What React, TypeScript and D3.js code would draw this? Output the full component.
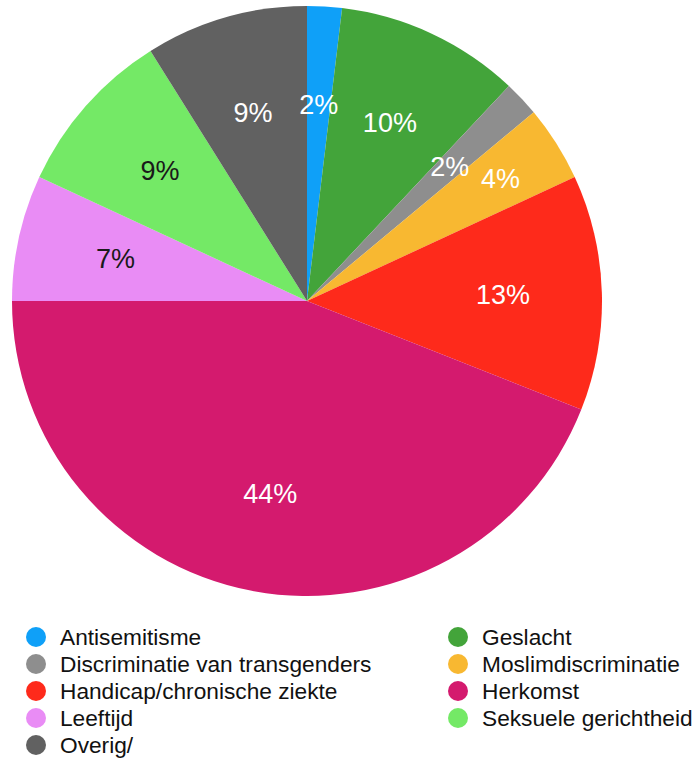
import React from 'react';
import * as d3 from 'd3';

const categories = [
  'Antisemitisme',
  'Geslacht',
  'Discriminatie van transgenders',
  'Moslimdiscriminatie',
  'Handicap/chronische ziekte',
  'Herkomst',
  'Leeftijd',
  'Seksuele gerichtheid',
  'Overig/',
];
const values = [1.9, 10.1, 1.95, 4.15, 12.9, 44.0, 6.9, 9.2, 8.9];
const labels = ['2%', '10%', '2%', '4%', '13%', '44%', '7%', '9%', '9%'];
const colors = ['#0fa0f8', '#43a43a', '#8e8e8e', '#f8b831', '#fe2a1b', '#d41a6e', '#e98cf5', '#74e966', '#616161'];
const darkText = [false, false, false, false, false, false, true, true, false];

// legend order (row by row, two columns)
const legendOrder = [0, 1, 2, 3, 4, 5, 6, 7, 8];

const W = 695;
const H = 758;

const App: React.FC = () => {
  const cx = 307;
  const cy = 301;
  const radius = 295;

  const pie = d3.pie<number>().sort(null).value(d => d);
  const arcs = pie(values);
  const arc = d3.arc<d3.PieArcDatum<number>>().innerRadius(0).outerRadius(radius);
  const labelArc = d3.arc<d3.PieArcDatum<number>>().innerRadius(196).outerRadius(196);
  const labelArcFar = d3.arc<d3.PieArcDatum<number>>().innerRadius(229).outerRadius(229);

  const font = '"Liberation Sans", Arial, Helvetica, sans-serif';

  return (
    <svg width={W} height={H} style={{ position: 'absolute', left: 0, top: 0 }} fontFamily={font}>
      <g transform={`translate(${cx},${cy})`}>
        {arcs.map((a, i) => (
          <path key={i} d={arc(a) || ''} fill={colors[i]} />
        ))}
        {arcs.map((a, i) => {
          // small slice next to another small one gets pushed outward
          const [x, y] = (i === 3 ? labelArcFar : labelArc).centroid(a);
          return (
            <text
              key={i}
              x={x}
              y={y}
              textAnchor="middle"
              dominantBaseline="central"
              fontSize={27}
              fill={darkText[i] ? '#1a1a1a' : '#ffffff'}
            >
              {labels[i]}
            </text>
          );
        })}
      </g>
      <g transform="translate(0,637)">
        {legendOrder.map((idx, k) => {
          const col = k % 2;
          const row = Math.floor(k / 2);
          const x = col === 0 ? 36 : 458;
          const y = row * 27;
          return (
            <g key={idx} transform={`translate(${x},${y})`}>
              <circle r={10} fill={colors[idx]} />
              <text x={24} y={0} dominantBaseline="central" fontSize={22.7} fill="#111">
                {categories[idx]}
              </text>
            </g>
          );
        })}
      </g>
    </svg>
  );
};

export default App;
